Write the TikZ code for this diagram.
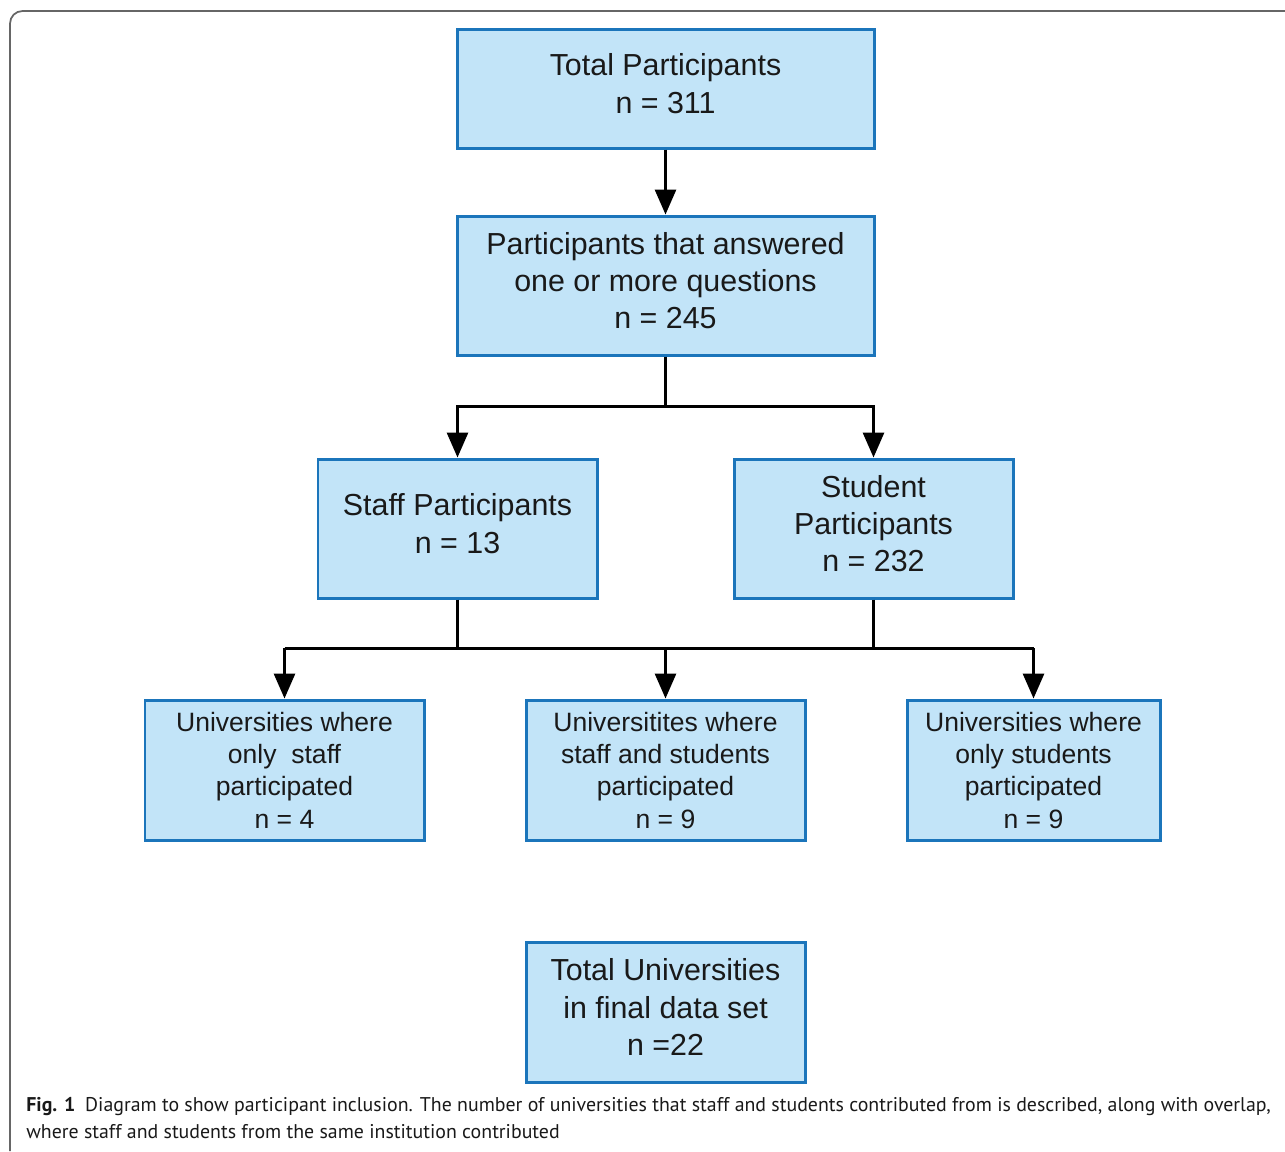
\documentclass[tikz,border=0pt]{standalone}
\usepackage{fontspec}
\setmainfont{Liberation Sans}
\newfontfamily\capfont{PT Sans}
\usetikzlibrary{arrows.meta, positioning, calc}
\definecolor{boxfill}{HTML}{C2E4F8}
\definecolor{boxline}{HTML}{1B75BB}
\definecolor{framegray}{HTML}{666666}
\begin{document}
\begin{tikzpicture}[
    box/.style={draw=boxline, line width=1.7pt, fill=boxfill, align=center, inner sep=0pt,
        text=black!90, text depth=0.2cm, font=\fontsize{17.3}{21.2}\selectfont},
    smallbox/.style={box, text depth=, font=\fontsize{15.1}{18.4}\selectfont},
    link/.style={line width=1.7pt, black},
    arr/.style={link, -{Triangle[width=0.42cm, length=0.5cm]}}
]
    \useasboundingbox (0,0) rectangle (25.7,-23.02);
    \draw[framegray, line width=1pt, rounded corners=0.25cm] (0.2,-23.02) |- (25.7,-0.22);

    % top of the tree
    \node[box, minimum width=8.34cm, minimum height=2.38cm] (total) at (13.31,-1.77)
        {Total Participants\\n = 311};
    \node[box, minimum width=8.34cm, minimum height=2.78cm] (answered) at (13.31,-5.71)
        {Participants that answered\\one or more questions\\n = 245};
    \node[box, minimum width=5.58cm, minimum height=2.78cm] (staff) at (9.15,-10.57)
        {Staff Participants\\n = 13};
    \node[box, minimum width=5.58cm, minimum height=2.78cm] (student) at (17.47,-10.57)
        {Student\\Participants\\n = 232};

    % universities
    \node[smallbox, minimum width=5.58cm, minimum height=2.8cm] (onlystaff) at (5.69,-15.4)
        {Universities where\\only~ staff\\participated\\n = 4};
    \node[smallbox, minimum width=5.58cm, minimum height=2.8cm] (both) at (13.31,-15.4)
        {Universitites where\\staff and students\\participated\\n = 9};
    \node[smallbox, minimum width=5.06cm, minimum height=2.8cm] (onlystud) at (20.67,-15.4)
        {Universities where\\only students\\participated\\n = 9};
    \node[box, minimum width=5.58cm, minimum height=2.8cm] (unis) at (13.31,-20.24)
        {Total Universities\\in final data set\\n =22};

    \coordinate (split1) at (13.31,-8.12);
    \coordinate (split2) at (13.31,-12.96);

    \draw[arr] (total) -- (answered);
    \draw[link] (answered) -- (split1);
    \draw[arr] (split1) -| (staff);
    \draw[arr] (split1) -| (student);

    \draw[link] (staff) -- (staff |- split2);
    \draw[link] (student) -- (student |- split2);
    \draw[link] (split2 -| onlystaff) -- (split2 -| onlystud);
    \draw[arr] (split2 -| onlystaff) -- (onlystaff);
    \draw[arr] (split2) -- (both);
    \draw[arr] (split2 -| onlystud) -- (onlystud);

    \node[anchor=base west, align=left, inner sep=0pt, text=black!90,
        font=\capfont\fontsize{11.3}{15.3}\selectfont] (caption) at (0.52,-22.76)
        {\textbf{Fig. 1}\enspace Diagram to show participant inclusion. The number of universities that staff and students contributed from is described, along with overlap,\\
        where staff and students from the same institution contributed};
\end{tikzpicture}
\end{document}
